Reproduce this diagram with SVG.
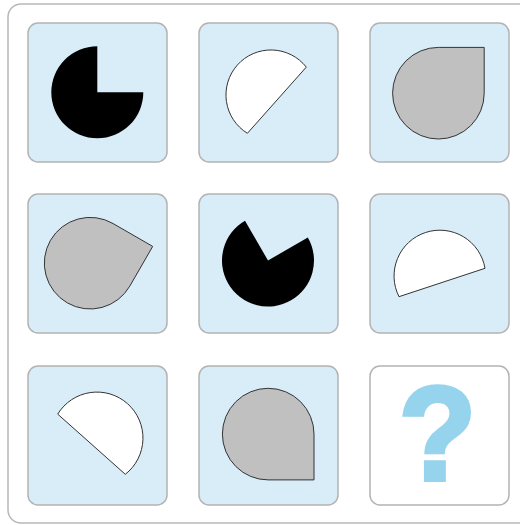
<svg xmlns="http://www.w3.org/2000/svg" width="520" height="525" viewBox="0 0 520 525">
<style>
.cell{fill:#d8edf8;stroke:#b3b3b3;stroke-width:1.5}
.blank{fill:#ffffff;stroke:#b3b3b3;stroke-width:1.5}
.black{fill:#000000;stroke:none}
.white{fill:#ffffff;stroke:#333333;stroke-width:1}
.gray{fill:#c0c0c0;stroke:#333333;stroke-width:1}
.q{fill:#96d4ee;stroke:#96d4ee;stroke-width:4;stroke-linejoin:miter;font-family:"Liberation Sans",Arial,sans-serif;font-weight:bold;font-size:127px}
</style>
<rect x="8" y="4" width="530" height="519" rx="13" fill="#ffffff" stroke="#b8b8b8" stroke-width="1.5"/>
<g id="cell1"><rect class="cell" x="28" y="23" width="139" height="139" rx="10"/><path class="black" d="M97.3 92.3 L97.3 46.3 A46 46 0 1 0 143.3 92.3 Z"/></g>
<g id="cell2"><rect class="cell" x="199" y="23" width="139" height="139" rx="10"/><path class="white" d="M306.3 67.1 A45 45 0 1 0 247.4 133.3 Z"/></g>
<g id="cell3"><rect class="cell" x="370" y="23" width="139" height="139" rx="10"/><path class="gray" d="M438.4 47.4 L484.2 47.4 L484.2 93.2 A45.8 45.8 0 1 1 438.4 47.4 Z"/></g>
<g id="cell4"><rect class="cell" x="28" y="194" width="139" height="139" rx="10"/><path class="gray" d="M113 223.5 L152.7 246.4 L129.8 286.1 A45.8 45.8 0 1 1 113 223.5 Z"/></g>
<g id="cell5"><rect class="cell" x="199" y="194" width="139" height="139" rx="10"/><path class="black" d="M268 260.5 L245 220.7 A46 46 0 1 0 307.8 237.5 Z"/></g>
<g id="cell6"><rect class="cell" x="370" y="194" width="139" height="139" rx="10"/><path class="white" d="M485 268.3 A45.8 45.8 0 1 0 399 296.7 Z"/></g>
<g id="cell7"><rect class="cell" x="28" y="366" width="139" height="139" rx="10"/><path class="white" d="M57.7 414.1 A46 46 0 1 1 125.3 474.3 Z"/></g>
<g id="cell8"><rect class="cell" x="199" y="366" width="139" height="139" rx="10"/><path class="gray" d="M268.2 479.9 L314 479.9 L314 434.1 A45.8 45.8 0 1 0 268.2 479.9 Z"/></g>
<g id="cell9"><rect class="blank" x="370" y="366" width="139" height="139" rx="10"/><text class="q" transform="translate(437.5 479.7) scale(1.0 1.05)" x="0" y="0" text-anchor="middle">?</text></g>
<g id="connectors"></g>
</svg>
